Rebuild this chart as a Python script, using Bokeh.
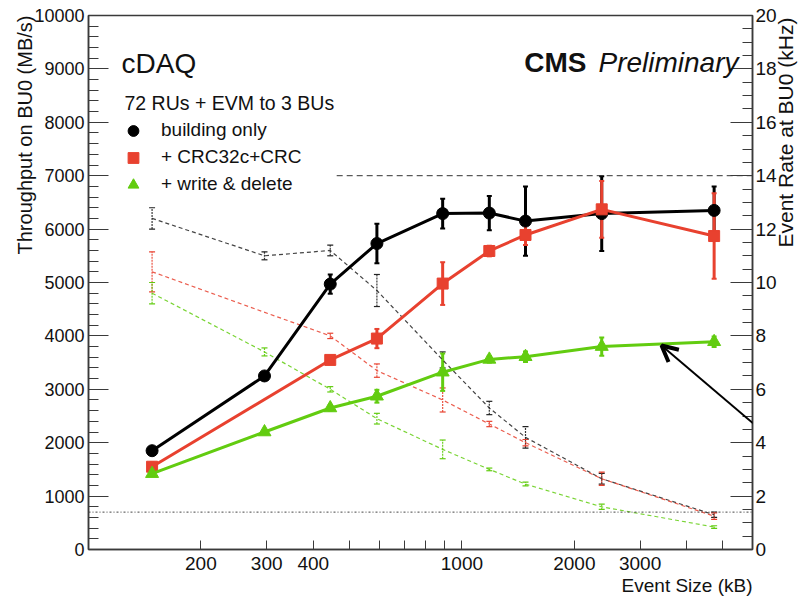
from bokeh.plotting import figure
from bokeh.models import (Range1d, LinearAxis, FixedTicker, SingleIntervalTicker,
                          ColumnDataSource, Whisker, TeeHead, Label, Legend, LegendItem,
                          Arrow, OpenHead, Span, NumeralTickFormatter, Title)
from bokeh.embed import file_html
from bokeh.resources import INLINE
import math

# ---------------- data ----------------
sizes_all = [148, 296, 444, 592, 888, 1184, 1480, 2368, 4736]
sizes_crc = [148, 444, 592, 888, 1184, 1480, 2368, 4736]

tp_build = [1850, 3250, 4970, 5730, 6290, 6300, 6150, 6290, 6350]
tp_build_err = [60, 60, 180, 370, 280, 320, 650, 700, 450]
tp_crc = [1550, 3550, 3950, 4980, 5590, 5890, 6370, 5870]
tp_crc_err = [80, 60, 180, 400, 100, 190, 530, 800]
tp_wd = [1420, 2200, 2650, 2870, 3320, 3560, 3610, 3800, 3890]
tp_wd_err = [40, 40, 50, 120, 350, 60, 100, 170, 100]

rate_build = [12.4, 11.0, 11.2, 9.7, 7.1, 5.3, 4.2, 2.65, 1.3]
rate_build_err = [0.4, 0.15, 0.2, 0.6, 0.3, 0.25, 0.4, 0.2, 0.1]
rate_crc = [10.4, 8.0, 6.7, 5.6, 4.7, 4.0, 2.65, 1.25]
rate_crc_err = [0.75, 0.1, 0.25, 0.45, 0.1, 0.12, 0.25, 0.12]
rate_wd = [9.6, 7.4, 6.0, 4.9, 3.75, 3.0, 2.45, 1.6, 0.84]
rate_wd_err = [0.4, 0.15, 0.1, 0.2, 0.35, 0.05, 0.07, 0.1, 0.05]

x_major_ticks = [200, 300, 400, 1000, 2000, 3000]
x_minor_ticks = [100, 500, 600, 700, 800, 900, 4000, 5000]

limit_rate_x = [462, 6000]      # dashed 14 kHz line
limit_rate_y = [7000, 7000]
floor_y = 700                   # dotted line

arrow_head = (3424, 3820)
arrow_tail = (9181, 1273)

BLACK = "#000000"
RED = "#e8412f"
GREEN = "#62cc10"
FONT = "Liberation Sans"
AXC = "#3a3a3a"
TXT = "#111111"

# ---------------- figure ----------------
p = figure(width=811, height=603, x_axis_type="log",
           x_range=Range1d(100, 6000), y_range=Range1d(0, 10000),
           output_backend="svg", toolbar_location=None,
           min_border_left=87, min_border_right=59, min_border_top=15, min_border_bottom=54)
p.extra_y_ranges = {"rate": Range1d(0, 20)}
p.xgrid.visible = False
p.ygrid.visible = False
p.outline_line_color = AXC
p.outline_line_width = 1.5
p.background_fill_color = "white"
p.border_fill_color = "white"

# x axis
xa = p.xaxis[0]
xa.ticker = FixedTicker(ticks=x_major_ticks, minor_ticks=x_minor_ticks)
xa.formatter = NumeralTickFormatter(format="0")
xa.major_tick_in = 9
xa.major_tick_out = 0
xa.minor_tick_in = 9
xa.minor_tick_out = 0
xa.major_label_standoff = 7
xa.major_label_text_font = FONT
xa.major_label_text_font_size = "19px"
xa.major_label_text_color = TXT
xa.axis_line_color = AXC
xa.axis_line_width = 1.5
xa.major_tick_line_color = AXC
xa.minor_tick_line_color = AXC

p.add_layout(Title(text="Event Size (kB)", align="right", standoff=0, offset=0,
                   text_font=FONT, text_font_size="19px", text_font_style="normal",
                   text_color=TXT), "below")

# left axis
ya = p.yaxis[0]
ya.ticker = SingleIntervalTicker(interval=1000, num_minor_ticks=5)
ya.major_tick_in = 20
ya.major_tick_out = 0
ya.minor_tick_in = 10
ya.minor_tick_out = 0
ya.major_label_standoff = 4
ya.major_label_text_font = FONT
ya.major_label_text_font_size = "18px"
ya.major_label_text_color = TXT
ya.axis_line_color = AXC
ya.axis_line_width = 1.5
ya.major_tick_line_color = AXC
ya.minor_tick_line_color = AXC
ya.axis_label = "Throughput on BU0 (MB/s)"
ya.axis_label_orientation = math.pi / 2
ya.axis_label_align = "end"
ya.axis_label_standoff = 6
ya.axis_label_text_font = FONT
ya.axis_label_text_font_size = "20px"
ya.axis_label_text_font_style = "normal"
ya.axis_label_text_color = TXT

# right axis
ra = LinearAxis(y_range_name="rate",
                ticker=SingleIntervalTicker(interval=2, num_minor_ticks=4))
ra.major_tick_in = 22
ra.major_tick_out = 0
ra.minor_tick_in = 10
ra.minor_tick_out = 0
ra.major_label_standoff = 3
ra.major_label_text_font = FONT
ra.major_label_text_font_size = "19px"
ra.major_label_text_color = TXT
ra.axis_line_color = AXC
ra.axis_line_width = 1.5
ra.major_tick_line_color = AXC
ra.minor_tick_line_color = AXC
ra.axis_label = "\u00a0" * 6 + "Event Rate at BU0 (kHz)"
ra.axis_label_orientation = math.pi / 2
ra.axis_label_align = "center"
ra.axis_label_standoff = 6
ra.axis_label_text_font = FONT
ra.axis_label_text_font_size = "21px"
ra.axis_label_text_font_style = "normal"
ra.axis_label_text_color = TXT
p.add_layout(ra, "right")

# reference lines
p.line(limit_rate_x, limit_rate_y, line_color="#333333", line_width=1, line_dash="6 4")
p.add_layout(Span(location=floor_y, dimension="width", line_color="#444444",
                  line_width=1, line_dash="2 2 1 2"))

# ---------------- dashed rate curves ----------------
def rate_series(xs, ys, errs, color):
    src = ColumnDataSource(dict(x=xs, y=ys,
                                lo=[a - b for a, b in zip(ys, errs)],
                                hi=[a + b for a, b in zip(ys, errs)]))
    p.line("x", "y", source=src, y_range_name="rate", line_color=color,
           line_width=1.2, line_dash="4 3", line_alpha=0.85)
    w = Whisker(base="x", upper="hi", lower="lo", source=src, y_range_name="rate",
                line_color=color, line_width=1.2, line_dash="2 1", line_alpha=0.9,
                upper_head=TeeHead(size=6, line_color=color, line_width=1.2),
                lower_head=TeeHead(size=6, line_color=color, line_width=1.2))
    p.add_layout(w)

rate_series(sizes_all, rate_build, rate_build_err, "#222222")
rate_series(sizes_crc, rate_crc, rate_crc_err, RED)
rate_series(sizes_all, rate_wd, rate_wd_err, GREEN)

# ---------------- solid throughput curves ----------------
def tp_series(xs, ys, errs, color, marker, size):
    src = ColumnDataSource(dict(x=xs, y=ys,
                                lo=[a - b for a, b in zip(ys, errs)],
                                hi=[a + b for a, b in zip(ys, errs)]))
    p.line("x", "y", source=src, line_color=color, line_width=3)
    w = Whisker(base="x", upper="hi", lower="lo", source=src,
                line_color=color, line_width=3,
                upper_head=TeeHead(size=5, line_color=color, line_width=2),
                lower_head=TeeHead(size=5, line_color=color, line_width=2))
    p.add_layout(w)
    r = p.scatter("x", "y", source=src, marker=marker, size=size,
                  fill_color=color, line_color=color)
    return r

r_b = tp_series(sizes_all, tp_build, tp_build_err, BLACK, "circle", 12)
r_c = tp_series(sizes_crc, tp_crc, tp_crc_err, RED, "square", 11)
r_w = tp_series(sizes_all, tp_wd, tp_wd_err, GREEN, "triangle", 13)

# ---------------- legend ----------------
leg = Legend(items=[LegendItem(label="building only", renderers=[r_b]),
                    LegendItem(label="+ CRC32c+CRC", renderers=[r_c]),
                    LegendItem(label="+ write & delete", renderers=[r_w])],
             location=(30, 351.5), glyph_width=30, glyph_height=27,
             label_height=27, spacing=0, padding=0, margin=0, label_standoff=13,
             label_text_font=FONT, label_text_font_size="19px",
             label_text_color=TXT,
             background_fill_alpha=0, border_line_alpha=0)
p.add_layout(leg)

# ---------------- texts ----------------
def lab(text, x, y, size, align="left", baseline="alphabetic", style="normal"):
    p.add_layout(Label(text=text, x=x, y=y, x_units="screen", y_units="screen",
                       text_font=FONT, text_font_size=size, text_align=align,
                       text_baseline=baseline, text_font_style=style,
                       text_color=TXT))

lab("cDAQ", 33, 486, "28px")
lab("72 RUs + EVM to 3 BUs", 36, 447, "19.5px")
lab("CMS", 498, 487, "28px", align="right", style="bold")
lab("Preliminary", 650, 487, "28px", align="right", style="italic")

# annotation arrow
p.add_layout(Arrow(x_start=arrow_tail[0], y_start=arrow_tail[1],
                   x_end=arrow_head[0], y_end=arrow_head[1],
                   line_color="#000000", line_width=2,
                   end=OpenHead(size=16, line_width=4, line_color="#000000")))

open("out.html", "w").write(file_html(p, INLINE))
